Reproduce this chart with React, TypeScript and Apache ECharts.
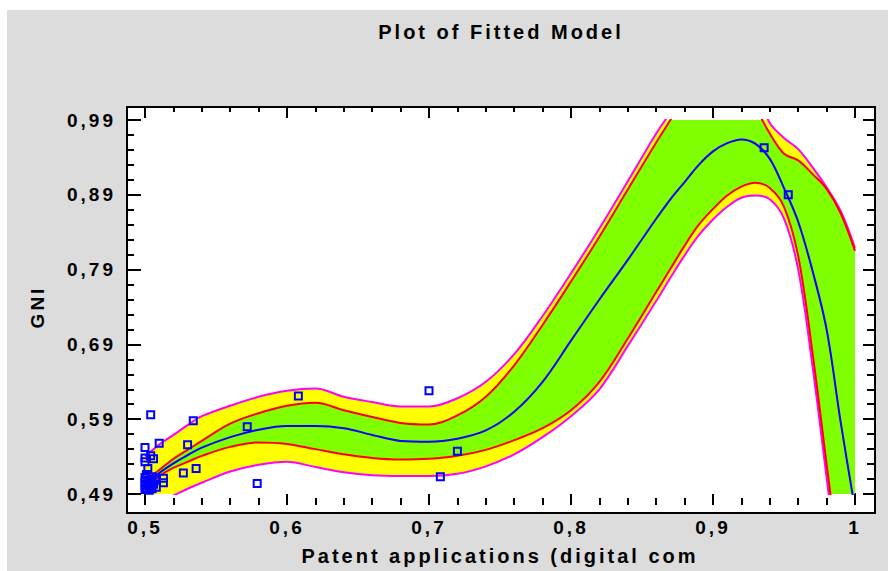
import React, { useEffect, useRef } from "react";
import * as echarts from "echarts";

// ---- data ----
const xs = [0.50,0.51,0.52,0.53,0.54,0.56,0.58,0.60,0.62,0.64,0.66,0.68,0.70,0.72,0.74,0.76,0.78,0.80,0.82,0.84,0.86,0.87,0.88,0.89,0.90,0.91,0.92,0.93,0.94,0.95,0.96,0.97,0.98,0.99,1.00];
const fitted = [0.503,0.518,0.531,0.542,0.552,0.566,0.576,0.581,0.581,0.578,0.569,0.561,0.560,0.564,0.575,0.600,0.640,0.695,0.750,0.803,0.858,0.884,0.907,0.930,0.948,0.959,0.964,0.958,0.938,0.899,0.854,0.789,0.710,0.585,0.470];
const upperConf = [0.508,0.522,0.537,0.549,0.561,0.584,0.598,0.608,0.612,0.602,0.593,0.585,0.583,0.595,0.620,0.662,0.716,0.774,0.834,0.897,0.960,0.990,1.020,1.045,1.060,1.065,1.045,1.007,0.972,0.945,0.936,0.918,0.898,0.865,0.815];
const lowerConf = [0.498,0.514,0.525,0.533,0.541,0.553,0.559,0.557,0.550,0.543,0.538,0.536,0.537,0.541,0.549,0.562,0.578,0.602,0.640,0.698,0.760,0.791,0.822,0.850,0.871,0.889,0.901,0.906,0.899,0.874,0.808,0.680,0.530,0.380,0.220];
const upperPred = [0.540,0.556,0.569,0.582,0.594,0.608,0.620,0.628,0.631,0.620,0.613,0.607,0.607,0.618,0.640,0.677,0.728,0.785,0.845,0.908,0.972,1.000,1.030,1.055,1.070,1.075,1.060,1.030,0.986,0.966,0.951,0.927,0.900,0.868,0.819];
const lowerPred = [0.470,0.480,0.488,0.497,0.505,0.520,0.529,0.533,0.526,0.519,0.515,0.514,0.514,0.517,0.527,0.543,0.566,0.594,0.630,0.688,0.748,0.779,0.809,0.836,0.857,0.874,0.886,0.889,0.884,0.858,0.790,0.662,0.512,0.360,0.200];

const pointX = [0.504,0.500,0.510,0.534,0.530,0.527,0.536,0.572,0.579,0.608,0.700,0.720,0.708,0.936,0.953,
  0.500,0.500,0.504,0.506,0.502,0.513,0.513,
  0.500,0.500,0.500,0.500,0.501,0.502,0.502,0.503,0.504,0.504,0.505,0.506,0.507,0.508,0.501,0.505];
const pointY = [0.596,0.552,0.558,0.588,0.556,0.518,0.524,0.580,0.504,0.621,0.628,0.547,0.513,0.953,0.890,
  0.538,0.533,0.541,0.537,0.524,0.511,0.505,
  0.496,0.501,0.506,0.512,0.498,0.503,0.509,0.495,0.500,0.507,0.497,0.503,0.510,0.499,0.516,0.513];

const xTitle = "Patent applications (digital com";
const yTitle = "GNI";
const chartTitle = "Plot of Fitted Model";

const FONT = "'Liberation Sans', Arial, sans-serif";
const SMOOTH = 0.35;

const pairs = (ys: number[]) => xs.map((x, i) => [x, ys[i]]);

function areaSeries(name: string, ys: number[], color: string) {
  return {
    type: "line", name, data: pairs(ys), smooth: SMOOTH,
    symbol: "none", showSymbol: false, silent: true,
    lineStyle: { width: 0, opacity: 0 },
    areaStyle: { color, opacity: 1, origin: "start" },
    z: 2,
  };
}
function lineSeries(name: string, ys: number[], color: string) {
  return {
    type: "line", name, data: pairs(ys), smooth: SMOOTH,
    symbol: "none", showSymbol: false, silent: true,
    lineStyle: { width: 2, color },
    z: 3,
  };
}

const tickStyle = { color: "#000", width: 2 };
const labelStyle = { color: "#000", fontSize: 19, fontWeight: "bold" as const, fontFamily: FONT };

export default function App() {
  const ref = useRef<HTMLDivElement>(null);
  useEffect(() => {
    if (!ref.current) return;
    const chart = echarts.init(ref.current, null, { renderer: "svg" });
    chart.setOption({
      animation: false,
      backgroundColor: "#ffffff",
      graphic: [
        { type: "rect", z: -20, shape: { x: 7, y: 10, width: 881, height: 561 }, style: { fill: "#dcdcdc" }, silent: true },
        { type: "rect", z: -10, shape: { x: 127, y: 107, width: 748, height: 406 }, style: { fill: "#ffffff" }, silent: true },
        { type: "rect", z: 100, shape: { x: 127, y: 107, width: 748, height: 406 }, style: { fill: "none", stroke: "#000", lineWidth: 2 }, silent: true },
        {
          type: "text", x: 501, y: 32, z: 100,
          style: { text: chartTitle, align: "center", verticalAlign: "middle", textAlign: "center", textVerticalAlign: "middle", fill: "#000", font: `bold 20px ${FONT}` },
        },
      ],
      grid: { left: 145, right: 33, top: 120, bottom: 69, containLabel: false },
      xAxis: [
        {
          type: "value", position: "bottom", min: 0.5, max: 1, interval: 0.1, offset: 11,
          axisLine: { show: false },
          axisTick: { show: true, inside: true, length: 12, lineStyle: tickStyle },
          minorTick: { show: true, splitNumber: 5, length: 7, lineStyle: tickStyle },
          splitLine: { show: false }, minorSplitLine: { show: false },
          axisLabel: { ...labelStyle, margin: 13, formatter: (v: number) => (Math.abs(v - 1) < 1e-9 ? "1" : v.toFixed(1).replace(".", ",")) },
          name: xTitle, nameLocation: "middle", nameGap: 41,
          nameTextStyle: { color: "#000", fontSize: 20, fontWeight: "bold", fontFamily: FONT },
        },
        {
          type: "value", position: "top", min: 0.5, max: 1, interval: 0.1, offset: 13,
          axisLine: { show: false },
          axisTick: { show: true, inside: true, length: 11, lineStyle: tickStyle },
          minorTick: { show: true, splitNumber: 5, length: 5, lineStyle: tickStyle },
          splitLine: { show: false }, axisLabel: { show: false },
        },
      ],
      yAxis: [
        {
          type: "value", position: "left", min: 0.49, max: 0.99, interval: 0.1, offset: 18,
          axisLine: { show: false },
          axisTick: { show: true, inside: true, length: 14, lineStyle: tickStyle },
          minorTick: { show: true, splitNumber: 5, length: 7, lineStyle: tickStyle },
          splitLine: { show: false }, minorSplitLine: { show: false },
          axisLabel: { ...labelStyle, margin: 11, formatter: (v: number) => v.toFixed(2).replace(".", ",") },
          name: yTitle, nameLocation: "middle", nameGap: 80,
          nameTextStyle: { color: "#000", fontSize: 19, fontWeight: "bold", fontFamily: FONT },
        },
        {
          type: "value", position: "right", min: 0.49, max: 0.99, interval: 0.1, offset: 20,
          axisLine: { show: false },
          axisTick: { show: true, inside: true, length: 12, lineStyle: tickStyle },
          minorTick: { show: true, splitNumber: 5, length: 8, lineStyle: tickStyle },
          splitLine: { show: false }, axisLabel: { show: false },
        },
      ],
      series: [
        areaSeries("Prediction upper", upperPred, "#ffff00"),
        areaSeries("Confidence upper", upperConf, "#80ff00"),
        areaSeries("Confidence lower", lowerConf, "#ffff00"),
        areaSeries("Prediction lower", lowerPred, "#ffffff"),
        lineSeries("Prediction upper line", upperPred, "#ff00ff"),
        lineSeries("Prediction lower line", lowerPred, "#ff00ff"),
        lineSeries("Confidence upper line", upperConf, "#ff0000"),
        lineSeries("Confidence lower line", lowerConf, "#ff0000"),
        lineSeries("Fitted", fitted, "#0000ff"),
        {
          type: "scatter", name: "Observed",
          data: pointX.map((x, i) => [x, pointY[i]]),
          symbol: "rect", symbolSize: 7, clip: false, silent: true,
          itemStyle: { color: "rgba(0,0,0,0)", borderColor: "#0000ff", borderWidth: 2, opacity: 1 },
          z: 5,
        },
      ],
    });
    return () => chart.dispose();
  }, []);
  return (
    <>
      <style>{`#root svg text { letter-spacing: 3px; }`}</style>
      <div ref={ref} style={{ position: "absolute", left: 0, top: 0, width: 888, height: 571 }} />
    </>
  );
}
